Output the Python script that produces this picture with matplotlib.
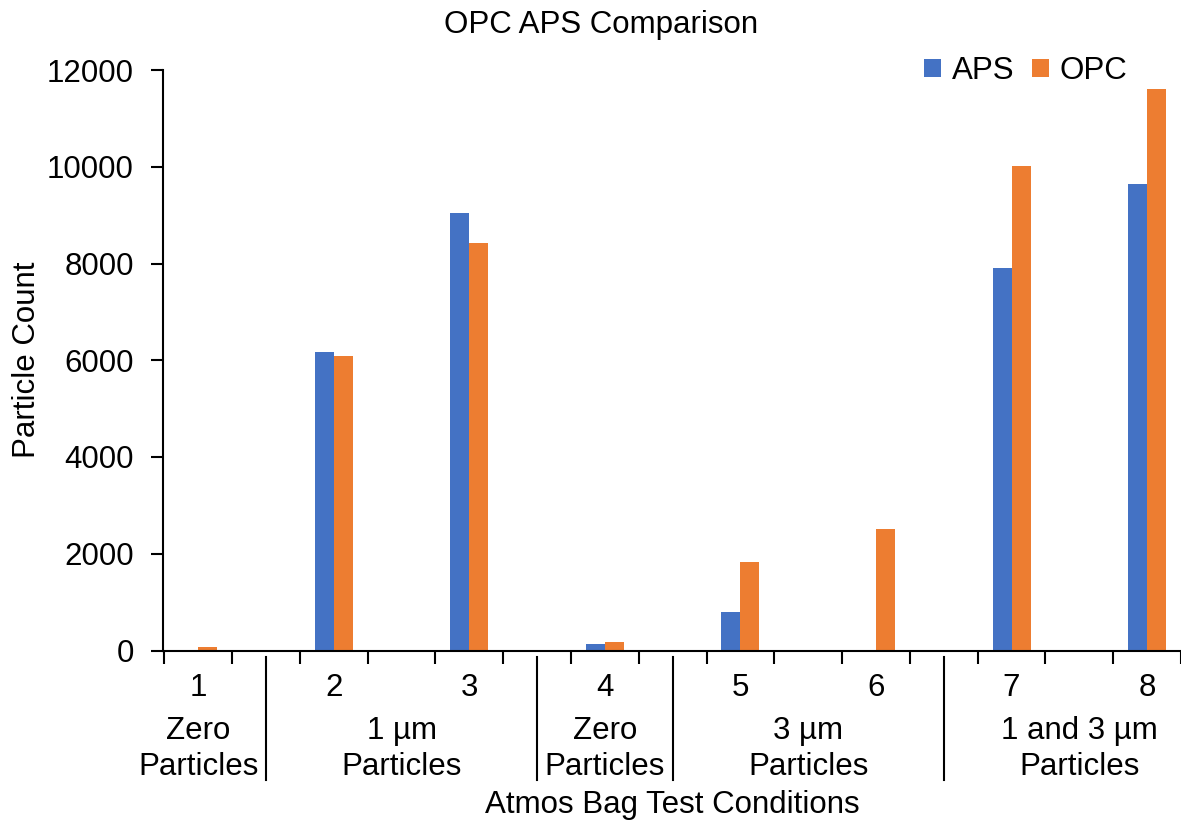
import numpy as np
import matplotlib
matplotlib.use("Agg")
import matplotlib.pyplot as plt
import matplotlib.transforms as mtransforms

plt.rcParams['font.family'] = ['Liberation Sans', 'DejaVu Sans']

# test numbers and the two instruments
tests = [1, 2, 3, 4, 5, 6, 7, 8]
aps = [0, 6180, 9040, 125, 790, 0, 7900, 9650]
opc = [70, 6080, 8430, 185, 1820, 2520, 10020, 11600]

# condition groups under the test numbers: (label, first test, last test)
groups = [
    ("Zero\nParticles", 1, 1),
    ("1 µm\nParticles", 2, 3),
    ("Zero\nParticles", 4, 4),
    ("3 µm\nParticles", 5, 6),
    ("1 and 3 µm\nParticles", 7, 8),
]

blue = '#4472C4'
orange = '#ED7D31'
fs = 22.5

W, H = 1181, 826
fig = plt.figure(figsize=(W / 100, H / 100), dpi=100)
ax = fig.add_axes([163 / W, 1 - 650.5 / H, (1181 - 163) / W, (650.5 - 70) / H])

x = np.array(tests, dtype=float)
bw = 0.14
ax.bar(x - bw / 2, aps, bw, color=blue, label='APS')
ax.bar(x + bw / 2, opc, bw, color=orange, label='OPC')

ax.set_xlim(0.74, 8.235)
ax.set_ylim(0, 12000)
ax.set_yticks(range(0, 12001, 2000))
ax.tick_params(axis='y', labelsize=fs, length=9, width=1.5, pad=12)

# tick marks sit a quarter of a category either side of each test
ticks = sorted([t - 0.25 for t in tests] + [t + 0.25 for t in tests])
ax.set_xticks(ticks)
ax.set_xticklabels([])
ax.tick_params(axis='x', length=9, width=1.5)

for s in ['top', 'right']:
    ax.spines[s].set_visible(False)
for s in ['left', 'bottom']:
    ax.spines[s].set_linewidth(1.5)

trans = mtransforms.blended_transform_factory(ax.transData, ax.transAxes)
ax_h = 650.5 - 70

def yax(py):
    # pixel row -> axes fraction
    return (650.5 - py) / ax_h

for t in tests:
    ax.text(t, yax(688), str(t), transform=trans, ha='center', va='center',
            fontsize=fs, clip_on=False)

for label, a, b in groups:
    ax.text((a + b) / 2, yax(749), label, transform=trans, ha='center',
            va='center', fontsize=fs, linespacing=1.3, clip_on=False)

for label, a, b in groups[:-1]:
    xb = b + 0.5
    ax.plot([xb, xb], [yax(657), yax(780)], transform=trans, color='black',
            lw=1.5, clip_on=False)

fig.text(672 / W, 1 - 805 / H, 'Atmos Bag Test Conditions', ha='center',
         va='center', fontsize=fs)
fig.text(27 / W, 1 - 360 / H, 'Particle Count', ha='center', va='center',
         rotation=90, fontsize=fs)
fig.text(601 / W, 1 - 25 / H, 'OPC APS Comparison', ha='center',
         va='center', fontsize=fs)

fig.legend(loc='center right', bbox_to_anchor=(1143 / W, 1 - 71 / H), ncol=2,
           frameon=False, fontsize=fs, handlelength=0.55, handleheight=0.55,
           handletextpad=0.35, columnspacing=0.55, borderpad=0)

fig.savefig('out.png', dpi=100)
